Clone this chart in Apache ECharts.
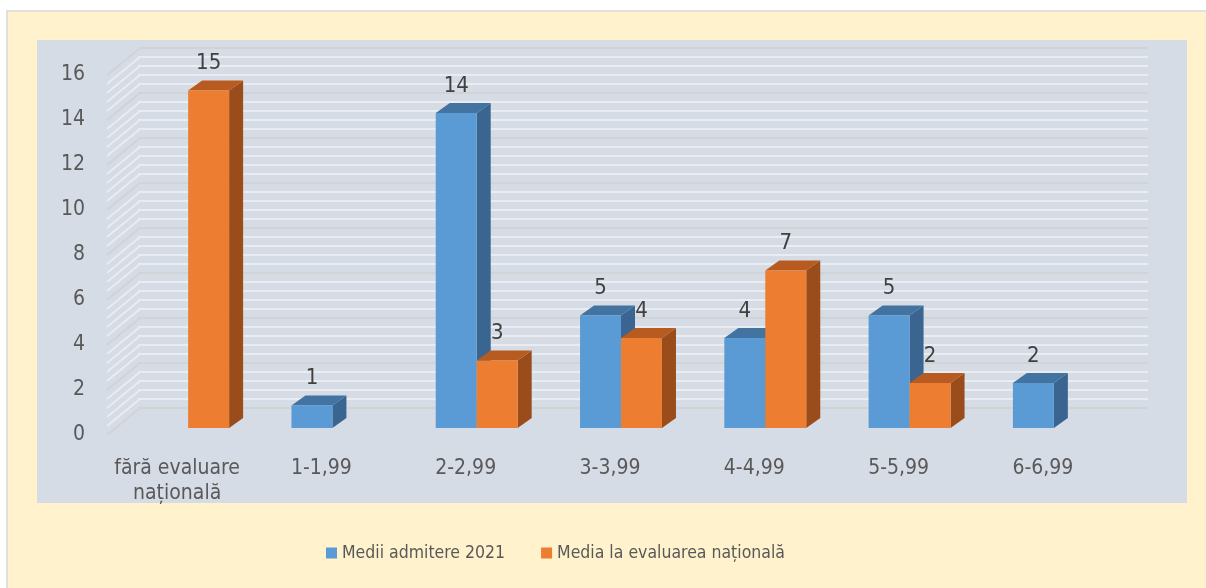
<!DOCTYPE html>
<html><head><meta charset="utf-8">
<script src="https://cdn.jsdelivr.net/npm/echarts@6/dist/echarts.min.js"></script>
<style>html,body{margin:0;padding:0;background:#fff}#c{width:1206px;height:588px}</style>
</head><body><div id="c"></div>
<script>
const categories = ['fără evaluare\nnațională', '1-1,99', '2-2,99', '3-3,99', '4-4,99', '5-5,99', '6-6,99'];
const seriesNames = ['Medii admitere 2021', 'Media la evaluarea națională'];
const admitere = [null, 1, 14, 5, 4, 5, 2];
const evaluare = [15, null, 3, 4, 7, 2, null];
const yMin = 0, yMax = 16, yStep = 2, yMinorSplit = 5;

const FONT = '"Liberation Sans Narrow", "DejaVu Sans Condensed", "Noto Sans", sans-serif';
const BAR_OFF = [11, -7], BAR_DEPTH = [14, -10], WALL_DEPTH = [33, -27];

function bar3d(front, top, side, slot) {
  return function (params, api) {
    const v = api.value(1);
    if (v == null || isNaN(v)) return null;
    const c = api.value(0);
    const base = api.coord([c, 0]);
    const tp = api.coord([c, v]);
    const band = api.size([1, 0])[0];
    const w = band * 0.284;
    const cx = base[0] + BAR_OFF[0];
    const x0 = slot === 0 ? cx - w : cx;
    const x1 = x0 + w;
    const yb = base[1] + BAR_OFF[1];
    const yt = tp[1] + BAR_OFF[1];
    const dx = BAR_DEPTH[0], dy = BAR_DEPTH[1];
    return {
      type: 'group',
      children: [
        { type: 'polygon', shape: { points: [[x1, yb], [x1 + dx, yb + dy], [x1 + dx, yt + dy], [x1, yt]] }, style: { fill: side } },
        { type: 'polygon', shape: { points: [[x0, yt], [x1, yt], [x1 + dx, yt + dy], [x0 + dx, yt + dy]] }, style: { fill: top } },
        { type: 'rect', shape: { x: x0, y: yt, width: w, height: yb - yt }, style: { fill: front } },
        { type: 'text', style: { text: String(v), x: (x0 + x1) / 2, y: yt - 27, textAlign: 'center', textVerticalAlign: 'middle', fill: '#404040', font: '22px ' + FONT } }
      ]
    };
  };
}

const wallTicks = [];
for (let i = 0; i <= (yMax - yMin) / yStep * yMinorSplit; i++) wallTicks.push([0, yMin + i * yStep / yMinorSplit, i % yMinorSplit === 0 ? 1 : 0]);

const MAJOR = '#D2D3D4', MINOR = '#EAECEF';
const chart = echarts.init(document.getElementById('c'));
chart.setOption({
  backgroundColor: '#ffffff',
  animation: false,
  graphic: [
    { type: 'rect', z: -100, zlevel: 0, shape: { x: 7, y: 11, width: 1210, height: 600 }, style: { fill: '#FFF2CC', stroke: '#D9D9D9', lineWidth: 1.5 }, silent: true },
    { type: 'rect', z: -99, zlevel: 0, shape: { x: 37, y: 40, width: 1150, height: 463 }, style: { fill: '#D6DCE5' }, silent: true }
  ],
  legend: {
    left: 321, top: 539, icon: 'rect', itemWidth: 11, itemHeight: 11, itemGap: 36,
    textStyle: { fontFamily: FONT, fontSize: 17.5, color: '#595959' },
    data: seriesNames
  },
  grid: [
    { left: 105, width: 1010, top: 75, height: 360 },
    { left: 105 + WALL_DEPTH[0], width: 1010, top: 75 + WALL_DEPTH[1], height: 360 }
  ],
  xAxis: [
    { type: 'category', gridIndex: 0, data: categories, axisLine: { show: false }, axisTick: { show: false },
      axisLabel: { color: '#595959', fontFamily: FONT, fontSize: 21, margin: 21, lineHeight: 25, interval: 0 } },
    { type: 'category', gridIndex: 1, data: categories, show: false }
  ],
  yAxis: [
    { type: 'value', gridIndex: 0, min: yMin, max: yMax, interval: yStep, splitLine: { show: false },
      axisLine: { show: false }, axisTick: { show: false },
      axisLabel: { color: '#595959', fontFamily: FONT, fontSize: 21, margin: 20 } },
    { type: 'value', gridIndex: 1, min: yMin, max: yMax, interval: yStep, axisLabel: { show: false },
      axisLine: { show: false }, axisTick: { show: false },
      splitLine: { show: true, lineStyle: { color: MAJOR, width: 2 } },
      minorTick: { show: false, splitNumber: yMinorSplit },
      minorSplitLine: { show: true, lineStyle: { color: MINOR, width: 2 } } }
  ],
  series: [
    { type: 'custom', name: 'wall', xAxisIndex: 0, yAxisIndex: 0, silent: true, z: 1,
      data: wallTicks,
      renderItem: function (params, api) {
        const p = api.coord([0, api.value(1)]);
        const x0 = params.coordSys.x + 2;
        return { type: 'line', shape: { x1: x0, y1: p[1], x2: x0 + WALL_DEPTH[0], y2: p[1] + WALL_DEPTH[1] },
          style: { stroke: api.value(2) ? MAJOR : MINOR, lineWidth: 2 } };
      } },
    { type: 'custom', name: seriesNames[0], xAxisIndex: 0, yAxisIndex: 0, z: 3,
      itemStyle: { color: '#5B9BD5' },
      data: admitere.map((v, i) => [i, v]),
      renderItem: bar3d('#5B9BD5', '#4373A0', '#3A6590', 0) },
    { type: 'custom', name: seriesNames[1], xAxisIndex: 0, yAxisIndex: 0, z: 4,
      itemStyle: { color: '#ED7D31' },
      data: evaluare.map((v, i) => [i, v]),
      renderItem: bar3d('#ED7D31', '#B75B20', '#9A4C1B', 1) }
  ]
});
</script></body></html>
